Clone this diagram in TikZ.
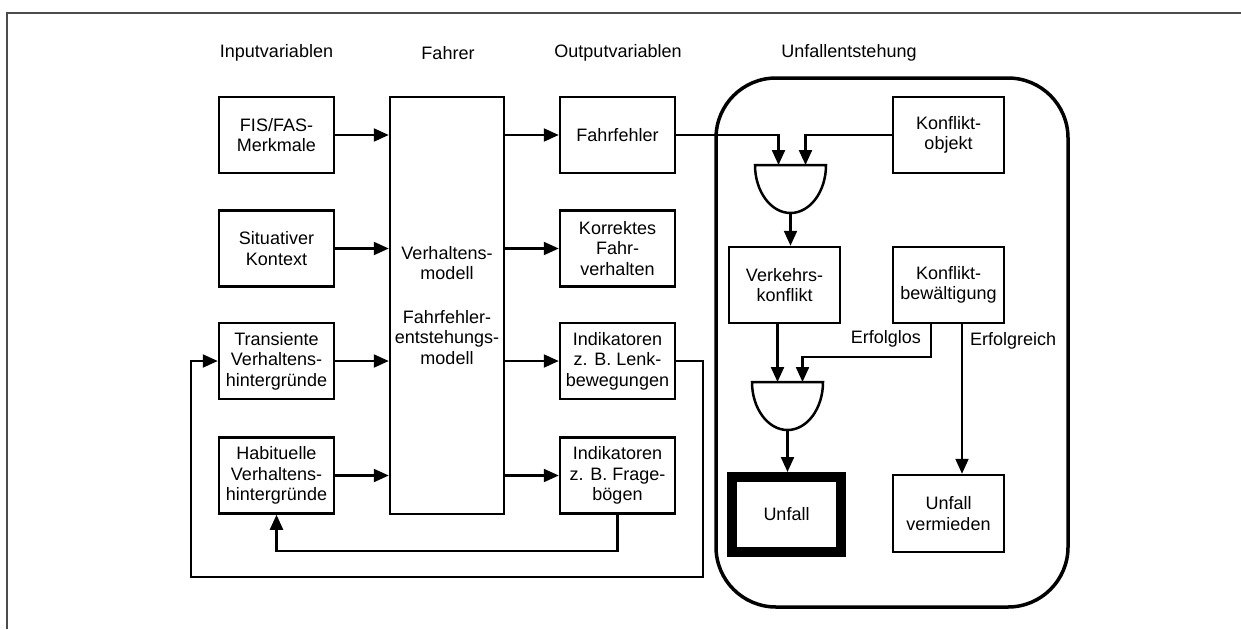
\documentclass[tikz,border=0pt]{standalone}
\usepackage{fontspec}
\setmainfont{Liberation Sans}
\usetikzlibrary{arrows.meta}
\newcommand\diafont{\fontsize{18}{20.5}\selectfont}
\begin{document}
\begin{tikzpicture}[x=1pt,y=-1pt,
  box/.style={draw, line width=2.5pt, minimum width=115pt, minimum height=76pt, inner sep=0pt, align=center, font=\diafont},
  hdr/.style={inner sep=0pt, font=\diafont},
  lbl/.style={inner sep=0pt, font=\diafont},
  gate/.style={draw=none, inner sep=0pt, outer sep=0pt, minimum width=71pt, minimum height=48pt},
  gl/.style={line width=2.5pt},
  arr/.style={line width=2.2pt, -{Triangle[length=15pt,width=13pt]}},
  ln/.style={line width=2.2pt}
]
\useasboundingbox (0,0) rectangle (1241,629);
\draw[line width=1.2pt, black!70] (7,629) -- (7,13) -- (1241,13);

% headers
\node[hdr] (h1) at (276.5,53) {Inputvariablen};
\node[hdr] (h2) at (448,53) {Fahrer};
\node[hdr] (h3) at (618,53) {Outputvariablen};
\node[hdr] (h4) at (849,53) {Unfallentstehung};

% inputs
\node[box] (fis) at (276.5,135) {FIS/FAS-\\Merkmale};
\node[box] (sit) at (276.5,248.5) {Situativer\\Kontext};
\node[box] (tra) at (276.5,361) {Transiente\\Verhaltens-\\hintergründe};
\node[box] (hab) at (276.5,475.5) {Habituelle\\Verhaltens-\\hintergründe};

% driver
\node[box, minimum width=114pt, minimum height=417pt] (fah) at (447,305.5) {Verhaltens-\\modell\\[23pt]Fahrfehler-\\entstehungs-\\modell};

% outputs
\node[box] (ff) at (617.5,135) {Fahrfehler};
\node[box] (kf) at (617.5,248.5) {Korrektes\\Fahr-\\verhalten};
\node[box] (i1) at (617.5,361) {Indikatoren\\z. B. Lenk-\\bewegungen};
\node[box] (i2) at (617.5,475.5) {Indikatoren\\z. B. Frage-\\bögen};

% accident area
\node[draw, line width=3.5pt, rounded corners=60pt, minimum width=352pt, minimum height=529pt] (ue) at (892,342.5) {};

\node[box, minimum width=111pt] (ko) at (948.5,135) {Konflikt-\\objekt};
\node[gate] (g1) at (790.5,189) {};
\draw[gl] (g1.north west) -- (g1.north east) arc[start angle=0,end angle=-180,x radius=35.5pt,y radius=48pt] -- cycle;
\node[box, minimum width=111pt] (vk) at (784.5,285) {Verkehrs-\\konflikt};
\node[box, minimum width=111pt] (kb) at (948.5,285) {Konflikt-\\bewältigung};
\node[gate] (g2) at (787.5,406) {};
\draw[gl] (g2.north west) -- (g2.north east) arc[start angle=0,end angle=-180,x radius=35.5pt,y radius=48pt] -- cycle;
\node[box, line width=10pt, minimum width=109pt, minimum height=75pt] (un) at (786.5,514.5) {Unfall};
\node[box, minimum width=111pt, minimum height=77pt] (uv) at (948.5,513.5) {Unfall\\vermieden};

\node[lbl, anchor=east] (lf) at (921,339) {Erfolglos};
\node[lbl, anchor=west] (lr) at (970,341) {Erfolgreich};

% connectors
\foreach \n in {fis,sit,tra,hab} \draw[arr] (\n.east) -- (\n.east -| fah.west);
\foreach \n in {ff,kf,i1,i2} \draw[arr] (\n.west -| fah.east) -- (\n.west);

\draw[arr] (ff.east) -| ([xshift=-12pt]g1.north);
\draw[arr] (ko.west) -| ([xshift=15pt]g1.north);
\draw[arr] (g1.south) -- (g1.south |- vk.north);
\draw[arr] ([xshift=-10pt]g2.north |- vk.south) -- ([xshift=-10pt]g2.north);
\coordinate (erfy) at (0,357);
\draw[arr] ([xshift=-17.5pt]kb.south) |- ([xshift=15pt]g2.north |- erfy) -- ([xshift=15pt]g2.north);
\draw[arr] ([xshift=13.5pt]kb.south) -- ([xshift=13.5pt]kb.south |- uv.north);
\draw[arr] (g2.south) -- (g2.south |- un.north);

% feedback
\coordinate (fr) at (703,577);
\coordinate (fl) at (191,577);
\draw[arr] (i1.east) -| (fr) -- (fl) |- (tra.west);
\coordinate (fb) at (0,551);
\draw[arr] (i2.south) |- (hab.south |- fb) -- (hab.south);
\end{tikzpicture}
\end{document}
